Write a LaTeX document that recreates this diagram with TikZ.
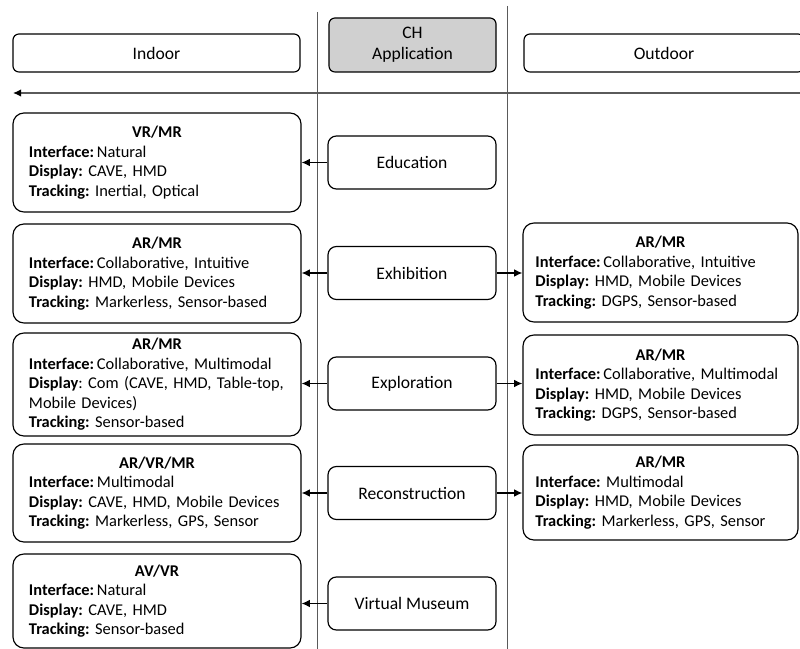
\documentclass[tikz,border=0pt]{standalone}
\usepackage{fontspec}
\setmainfont{Carlito}
\usetikzlibrary{arrows.meta}
\definecolor{linegray}{RGB}{90,90,90}
\definecolor{chgray}{RGB}{208,208,208}
\newcommand{\boxtitle}[1]{\makebox[\hsize][c]{\textbf{#1}}}
\frenchspacing

\begin{document}
\begin{tikzpicture}[x=0.03cm, y=-0.03cm,
  headbox/.style={draw, line width=1pt, rounded corners=0.18cm, minimum height=1.14cm, font=\fontsize{15}{18}\selectfont},
  appbox/.style={draw, line width=1pt, rounded corners=0.25cm, minimum width=5.04cm, minimum height=1.59cm, font=\fontsize{15}{18}\selectfont},
  leftbox/.style={draw, line width=1pt, rounded corners=0.33cm, text width=7.68cm, inner xsep=0.48cm, inner ysep=1pt, align=left, font=\fontsize{14}{16.6}\selectfont\frenchspacing, minimum height=2.97cm},
  rightbox/.style={leftbox, text width=7.5cm, inner xsep=0.375cm},
  arr/.style={-{Latex[length=7pt,width=6.5pt]}, line width=1.1pt},
  axis/.style={-{Latex[length=7pt,width=6.5pt,black]}, linegray, line width=1.1pt},
  divider/.style={linegray, line width=0.8pt}]
\useasboundingbox (0,0) rectangle (800,649);

% Dividers
\coordinate (lt) at (317,12);
\coordinate (lb) at (317,649);
\coordinate (rt) at (507,6);
\coordinate (rb) at (507,649);
\draw[divider] (lt) -- (lb);
\draw[divider] (rt) -- (rb);

% Header
\node[headbox, minimum width=8.61cm] (indoor) at (156.5,53) {Indoor};
\node[headbox, fill=chgray, minimum width=5.01cm, minimum height=1.62cm, align=center] (chapp) at (412.5,45) {CH\\Application};
\node[headbox, minimum width=8.4cm] (outdoor) at (664,53) {Outdoor};
\coordinate (axisR) at (801,93);
\coordinate (axisL) at (13,93);
\draw[axis] (axisR) -- (axisL);

% Applications
\node[appbox] (edu) at (412,162.5) {Education};
\node[appbox] (exh) at (412,273) {Exhibition};
\node[appbox] (expl) at (412,383.5) {Exploration};
\node[appbox] (recon) at (412,493) {Reconstruction};
\node[appbox] (vmus) at (412,603.5) {Virtual Museum};

% Indoor
\node[leftbox] (in1) at (157,162.5) {\boxtitle{VR/MR}\\\textbf{Interface:}\,Natural\\\textbf{Display:} CAVE, HMD\\\textbf{Tracking:} Inertial, Optical};
\node[leftbox] (in2) at (157,273.5) {\boxtitle{AR/MR}\\\textbf{Interface:}\,Collaborative, Intuitive\\\textbf{Display:} HMD, Mobile Devices\\\textbf{Tracking:} Markerless, Sensor-based};
\node[leftbox, minimum height=3.09cm] (in3) at (157,384.5) {\boxtitle{AR/MR}\\\textbf{Interface:}\,Collaborative, Multimodal\\\textbf{Display}: Com (CAVE, HMD, Table-top,\\Mobile Devices)\\\textbf{Tracking:} Sensor-based};
\node[leftbox, minimum height=2.94cm] (in4) at (157,493) {\boxtitle{AR/VR/MR}\\\textbf{Interface:}\,Multimodal\\\textbf{Display:} CAVE, HMD, Mobile Devices\\\textbf{Tracking:} Markerless, GPS, Sensor};
\node[leftbox, minimum height=2.82cm] (in5) at (157,601) {\boxtitle{AV/VR}\\\textbf{Interface:}\,Natural\\\textbf{Display:} CAVE, HMD\\\textbf{Tracking:} Sensor-based};

% Outdoor
\node[rightbox] (out2) at (660.5,272.5) {\boxtitle{AR/MR}\\\textbf{Interface:}\,Collaborative, Intuitive\\\textbf{Display:} HMD, Mobile Devices\\\textbf{Tracking:} DGPS, Sensor-based};
\node[rightbox, minimum height=3.0cm] (out3) at (660.5,385) {\boxtitle{AR/MR}\\\textbf{Interface:}\,Collaborative, Multimodal\\\textbf{Display:} HMD, Mobile Devices\\\textbf{Tracking:} DGPS, Sensor-based};
\node[rightbox, minimum height=2.85cm] (out4) at (660.5,492.5) {\boxtitle{AR/MR}\\\textbf{Interface:} Multimodal\\\textbf{Display:} HMD, Mobile Devices\\\textbf{Tracking:} Markerless, GPS, Sensor};

% Arrows
\draw[arr] (edu.west) -- (in1.east |- edu.west);
\draw[arr] (exh.west) -- (in2.east |- exh.west);
\draw[arr] (exh.east) -- (out2.west |- exh.east);
\draw[arr] (expl.west) -- (in3.east |- expl.west);
\draw[arr] (expl.east) -- (out3.west |- expl.east);
\draw[arr] (recon.west) -- (in4.east |- recon.west);
\draw[arr] (recon.east) -- (out4.west |- recon.east);
\draw[arr] (vmus.west) -- (in5.east |- vmus.west);
\end{tikzpicture}
\end{document}
